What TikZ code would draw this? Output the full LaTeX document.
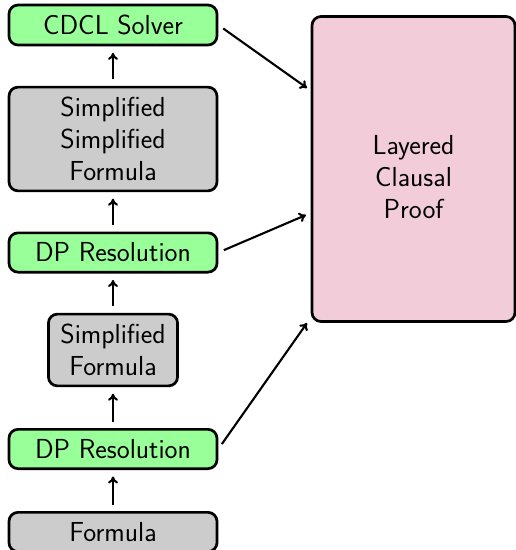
\documentclass[tikz,border=0pt]{standalone}
\usetikzlibrary{arrows.meta}
\begin{document}
\begin{tikzpicture}[x=1pt,y=1pt,
  box/.style={draw=black, line width=2.7pt, rounded corners=9pt, align=center,
    font=\fontsize{27.5}{32}\selectfont\sffamily, inner xsep=12pt, inner ysep=10pt,
    minimum height=39pt, text=black},
  greenbox/.style={box, fill=green!40, minimum width=208pt},
  graybox/.style={box, fill=black!20},
  pinkbox/.style={box, fill=purple!20, minimum width=203pt, minimum height=305pt},
  plain/.style={align=center, font=\fontsize{27.5}{32}\selectfont\sffamily, text=black},
  conn/.style={line width=2.1pt, -{To[length=7pt,width=10pt]}},
  vconn/.style={conn, shorten <=6.5pt, shorten >=6.5pt},
  dconn/.style={conn, shorten <=6pt}]
\useasboundingbox (0,0) rectangle (516,-550);
\node[greenbox] (cdcl) at (113,-25) {CDCL Solver};
\node[graybox, minimum width=208pt] (ssf) at (113,-139) {Simplified\\Simplified\\Formula};
\node[greenbox] (dp1) at (113,-252.5) {DP Resolution};
\node[graybox] (sf) at (113,-350) {Simplified\\Formula};
\node[greenbox] (dp2) at (113,-449) {DP Resolution};
\node[graybox, minimum width=208pt] (formula) at (113,-532) {Formula};
\node[pinkbox] (proof) at (413.5,-169) {};
\node[plain] (prooftext) at (413.5,-177) {Layered\\Clausal\\Proof};
\coordinate (t1) at (307,-88);
\coordinate (t2) at (306,-215);
\coordinate (t3) at (307,-323);
\draw[vconn] (formula.north) -- (dp2.south);
\draw[vconn] (dp2.north) -- (sf.south);
\draw[vconn] (sf.north) -- (dp1.south);
\draw[vconn] (dp1.north) -- (ssf.south);
\draw[vconn] (ssf.north) -- (cdcl.south);
\draw[dconn] (cdcl.east) -- (t1);
\draw[dconn] (dp1.east) -- (t2);
\draw[dconn] (dp2.east) -- (t3);
\end{tikzpicture}
\end{document}
